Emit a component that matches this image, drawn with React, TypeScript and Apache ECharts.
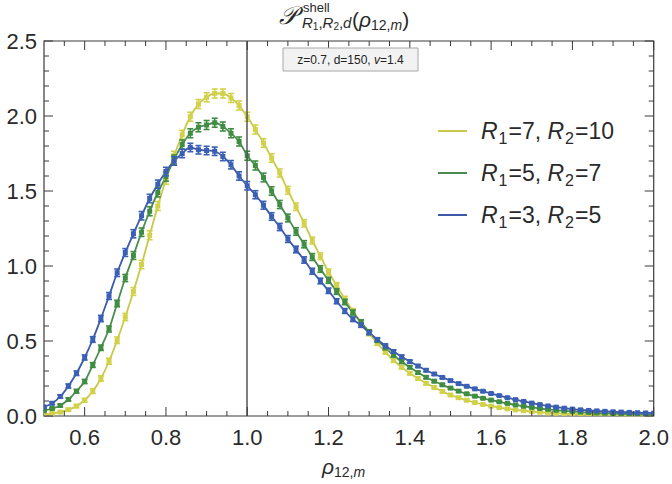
import React, { useEffect, useRef } from 'react';
import * as echarts from 'echarts';

const X = [0.50,0.52,0.54,0.56,0.58,0.60,0.62,0.64,0.66,0.68,0.70,0.72,0.74,0.76,0.78,0.80,0.82,0.84,0.86,0.88,0.90,0.92,0.94,0.96,0.98,
  1.00,1.02,1.04,1.06,1.08,1.10,1.12,1.14,1.16,1.18,1.20,1.22,1.24,1.26,1.28,1.30,1.32,1.34,1.36,1.38,1.40,1.42,1.44,1.46,1.48,
  1.50,1.52,1.54,1.56,1.58,1.60,1.62,1.64,1.66,1.68,1.70,1.72,1.74,1.76,1.78,1.80,1.82,1.84,1.86,1.88,1.90,1.92,1.94,1.96,1.98,2.00];

const yellowVals = [0.012,0.018,0.026,0.042,0.066,0.105,0.165,0.25,0.365,0.505,0.66,0.83,1.01,1.205,1.40,1.575,1.735,1.875,1.995,2.08,2.125,2.15,2.15,2.12,2.07,
  1.995,1.91,1.82,1.72,1.62,1.505,1.395,1.285,1.17,1.065,0.96,0.87,0.78,0.70,0.62,0.55,0.485,0.425,0.37,0.325,0.285,0.25,0.218,0.19,0.164,
  0.14,0.122,0.105,0.09,0.077,0.066,0.056,0.048,0.041,0.035,0.03,0.025,0.021,0.018,0.015,0.013,0.011,0.009,0.008,0.007,0.006,0.005,0.005,0.004,0.004,0.003];
const greenVals = [0.035,0.05,0.07,0.11,0.165,0.23,0.34,0.455,0.58,0.75,0.92,1.07,1.225,1.365,1.49,1.595,1.71,1.81,1.885,1.925,1.94,1.955,1.93,1.885,1.83,
  1.735,1.67,1.59,1.50,1.41,1.32,1.23,1.145,1.06,0.98,0.905,0.83,0.76,0.69,0.625,0.56,0.505,0.455,0.405,0.362,0.325,0.29,0.258,0.232,0.208,
  0.186,0.166,0.148,0.132,0.118,0.106,0.095,0.084,0.074,0.065,0.057,0.05,0.044,0.038,0.034,0.03,0.026,0.023,0.02,0.018,0.016,0.014,0.013,0.012,0.011,0.01];
const blueVals = [0.06,0.085,0.13,0.20,0.285,0.39,0.51,0.65,0.80,0.955,1.09,1.215,1.335,1.45,1.545,1.63,1.70,1.75,1.79,1.775,1.77,1.765,1.73,1.675,1.60,
  1.535,1.475,1.405,1.33,1.26,1.18,1.11,1.04,0.965,0.90,0.835,0.765,0.70,0.645,0.605,0.555,0.51,0.468,0.43,0.395,0.363,0.333,0.305,0.28,0.257,
  0.236,0.216,0.198,0.181,0.165,0.15,0.136,0.122,0.109,0.097,0.086,0.076,0.067,0.059,0.052,0.046,0.041,0.037,0.034,0.031,0.028,0.026,0.024,0.022,0.02,0.019];

const yellowErr = [0.004,0.005,0.006,0.008,0.01,0.012,0.015,0.018,0.02,0.022,0.024,0.026,0.028,0.03,0.03,0.03,0.03,0.03,0.03,0.03,0.03,0.03,0.03,0.03,0.03,
  0.03,0.03,0.029,0.028,0.027,0.026,0.025,0.024,0.023,0.022,0.02,0.019,0.018,0.017,0.016,0.015,0.014,0.013,0.012,0.011,0.01,0.009,0.009,0.008,0.008,
  0.007,0.007,0.006,0.006,0.005,0.005,0.005,0.005,0.005,0.005,0.005,0.005,0.005,0.005,0.005,0.005,0.005,0.005,0.005,0.005,0.005,0.005,0.005,0.005,0.005,0.004];
const greenErr = [0.005,0.006,0.008,0.01,0.012,0.014,0.016,0.018,0.02,0.022,0.024,0.026,0.028,0.03,0.03,0.03,0.03,0.03,0.03,0.03,0.03,0.03,0.03,0.03,0.03,
  0.03,0.03,0.029,0.028,0.027,0.026,0.025,0.024,0.023,0.022,0.02,0.019,0.018,0.017,0.016,0.015,0.014,0.013,0.012,0.011,0.01,0.009,0.009,0.008,0.008,
  0.007,0.007,0.006,0.006,0.005,0.005,0.005,0.005,0.005,0.005,0.005,0.005,0.005,0.005,0.005,0.005,0.005,0.005,0.005,0.005,0.005,0.005,0.005,0.005,0.005,0.004];
const blueErr = [0.007,0.009,0.011,0.013,0.015,0.017,0.019,0.021,0.023,0.025,0.026,0.027,0.028,0.028,0.028,0.028,0.028,0.028,0.028,0.028,0.028,0.028,0.028,0.028,0.028,
  0.028,0.027,0.026,0.025,0.024,0.023,0.022,0.021,0.02,0.019,0.018,0.017,0.016,0.015,0.014,0.013,0.012,0.012,0.011,0.011,0.01,0.009,0.009,0.008,0.008,
  0.007,0.007,0.006,0.006,0.006,0.005,0.005,0.005,0.005,0.005,0.005,0.005,0.005,0.005,0.005,0.005,0.005,0.005,0.005,0.005,0.005,0.005,0.005,0.005,0.005,0.004];

const R1 = [7, 5, 3];
const R2 = [10, 7, 5];
const lineColors = ['#c9c84a', '#4a8b50', '#3d5aa8'];
const pointColors = ['#d2d14a', '#3f8c42', '#3a5fb5'];
const seriesVals = [yellowVals, greenVals, blueVals];
const seriesErr = [yellowErr, greenErr, blueErr];

const xMajorTicks = [0.6, 0.8, 1.0, 1.2, 1.4, 1.6, 1.8, 2.0];
const xMinorTicks = [0.55, 0.65, 0.7, 0.75, 0.85, 0.9, 0.95, 1.05, 1.1, 1.15, 1.25, 1.3, 1.35, 1.45, 1.5, 1.55, 1.65, 1.7, 1.75, 1.85, 1.9, 1.95];
const yMajorTicks = [0, 0.5, 1.0, 1.5, 2.0, 2.5];
const yMinorTicks = [0.1, 0.2, 0.3, 0.4, 0.6, 0.7, 0.8, 0.9, 1.1, 1.2, 1.3, 1.4, 1.6, 1.7, 1.8, 1.9, 2.1, 2.2, 2.3, 2.4];
const markerX = 1.0;

const FONT = 'Liberation Sans, Arial, sans-serif';
const TXT = '#2a2a2a';
const FRAME = '#3a3a3a';

const G = { left: 44, right: 17, top: 41, bottom: 68 };

export default function App() {
  const ref = useRef<HTMLDivElement>(null);
  useEffect(() => {
    if (!ref.current) return;
    const chart = echarts.init(ref.current, undefined, { renderer: 'svg' });

    const lineSeries = seriesVals.map((vals, k) => ({
      type: 'line',
      data: X.map((x, i) => [x, vals[i]]),
      smooth: 0.35, showSymbol: false, symbol: 'none',
      lineStyle: { color: lineColors[k], width: 1.8 },
      z: 2, silent: true,
      markLine: k === 0 ? {
        symbol: 'none', silent: true, label: { show: false },
        lineStyle: { color: '#555', width: 1.5, type: 'solid' },
        data: [{ xAxis: markerX }],
      } : undefined,
    }));

    const pointSeries = seriesVals.map((vals, k) => ({
      type: 'custom',
      data: X.map((x, i) => [x, vals[i], seriesErr[k][i]]),
      encode: { x: 0, y: 1 },
      z: 3 + k, silent: true, clip: true,
      renderItem: (_p: any, api: any) => {
        const x = api.value(0), y = api.value(1), e = api.value(2);
        const c = api.coord([x, y]);
        const t = api.coord([x, y + e]);
        const b = api.coord([x, y - e]);
        const col = pointColors[k];
        const w = 3;
        const ls = { stroke: col, lineWidth: 1.6 };
        return {
          type: 'group',
          children: [
            { type: 'line', shape: { x1: c[0], y1: t[1], x2: c[0], y2: b[1] }, style: ls },
            { type: 'line', shape: { x1: c[0] - w, y1: t[1], x2: c[0] + w, y2: t[1] }, style: ls },
            { type: 'line', shape: { x1: c[0] - w, y1: b[1], x2: c[0] + w, y2: b[1] }, style: ls },
            { type: 'rect', shape: { x: c[0] - 2.5, y: c[1] - 2.5, width: 5, height: 5 }, style: { fill: col } },
          ],
        };
      },
    }));

    // frame ticks on all four sides, positioned through the axes' scales
    const tickStyle = { stroke: FRAME, lineWidth: 1 };
    const xTickSeries = (ticks: number[], len: number) => ({
      type: 'custom', silent: true, clip: false, z: 8,
      data: ticks.map((v) => [v, 1.0]),
      encode: { x: 0, y: 1 },
      renderItem: (_params: any, api: any) => {
        const px = api.coord([api.value(0), 0])[0];
        const yb = api.coord([api.value(0), 0])[1];
        const yt = api.coord([api.value(0), 2.5])[1];
        return {
          type: 'group',
          children: [
            { type: 'line', shape: { x1: px, y1: yb, x2: px, y2: yb - len }, style: tickStyle },
            { type: 'line', shape: { x1: px, y1: yt, x2: px, y2: yt + len }, style: tickStyle },
          ],
        };
      },
    });
    const yTickSeries = (ticks: number[], len: number) => ({
      type: 'custom', silent: true, clip: false, z: 8,
      data: ticks.map((v) => [1.0, v]),
      encode: { x: 0, y: 1 },
      renderItem: (_params: any, api: any) => {
        const py = api.coord([0.5, api.value(1)])[1];
        const xl = api.coord([0.5, api.value(1)])[0];
        const xr = api.coord([2.0, api.value(1)])[0];
        return {
          type: 'group',
          children: [
            { type: 'line', shape: { x1: xl, y1: py, x2: xl + len, y2: py }, style: tickStyle },
            { type: 'line', shape: { x1: xr, y1: py, x2: xr - len, y2: py }, style: tickStyle },
          ],
        };
      },
    });

    const legendGraphics: any[] = [];
    R1.forEach((r1, k) => {
      const yy = 131 + k * 42;
      legendGraphics.push({ type: 'line', shape: { x1: 438, y1: yy, x2: 467, y2: yy }, style: { stroke: lineColors[k], lineWidth: 2 }, z: 10 });
      legendGraphics.push({
        type: 'text', x: 481, y: yy, z: 10,
        style: {
          text: `{i|R}{s|1}{n|=${r1}, }{i|R}{s|2}{n|=${R2[k]}}`,
          fontFamily: FONT, fontSize: 23, fill: TXT, verticalAlign: 'middle',
          rich: {
            i: { fontStyle: 'italic', fontSize: 23, fontFamily: FONT, fill: TXT },
            n: { fontSize: 23, fontFamily: FONT, fill: TXT },
            s: { fontSize: 16, fontFamily: FONT, fill: TXT, padding: [14, 1, 0, 1] },
          },
        },
      });
    });

    const option: any = {
      animation: false,
      backgroundColor: '#ffffff',
      grid: { ...G, show: true, borderColor: FRAME, borderWidth: 1.2, backgroundColor: 'transparent' },
      xAxis: {
        type: 'value', min: 0.5, max: 2.0,
        axisLine: { show: false }, splitLine: { show: false }, axisTick: { show: false },
        axisLabel: { show: true, customValues: xMajorTicks, margin: 10, fontSize: 22, fontFamily: FONT, color: TXT, formatter: (v: number) => v.toFixed(1) },
      },
      yAxis: {
        type: 'value', min: 0, max: 2.5, interval: 0.5,
        axisLine: { show: false }, splitLine: { show: false }, axisTick: { show: false },
        axisLabel: { show: true, margin: 7, fontSize: 22, fontFamily: FONT, color: TXT, formatter: (v: number) => v.toFixed(1) },
      },
      series: [
        ...lineSeries,
        ...pointSeries,
        xTickSeries(xMajorTicks, 9),
        xTickSeries(xMinorTicks, 5),
        yTickSeries(yMajorTicks, 9),
        yTickSeries(yMinorTicks, 5),
      ],
      graphic: [
        { type: 'text', x: 279, y: 15, style: { text: '𝒫', fontFamily: 'DejaVu Serif, serif', fontStyle: 'italic', fontSize: 25, fill: TXT, verticalAlign: 'middle' } },
        { type: 'text', x: 303, y: 7, style: { text: 'shell', fontFamily: FONT, fontSize: 13, fill: TXT, verticalAlign: 'middle' } },
        {
          type: 'text', x: 302, y: 22,
          style: {
            text: '{i|R}{s|1}{n|,}{i|R}{s|2}{n|,}{i|d}', verticalAlign: 'middle', fill: TXT,
            rich: {
              i: { fontStyle: 'italic', fontSize: 15, fontFamily: FONT, fill: TXT },
              n: { fontSize: 15, fontFamily: FONT, fill: TXT },
              s: { fontSize: 10, fontFamily: FONT, fill: TXT, padding: [8, 0, 0, 0] },
            },
          },
        },
        {
          type: 'text', x: 352, y: 19,
          style: {
            text: '{n|(}{i|ρ}{s|12,}{si|m}{n|)}', verticalAlign: 'middle', fill: TXT,
            rich: {
              n: { fontSize: 21, fontFamily: FONT, fill: TXT },
              i: { fontSize: 21, fontStyle: 'italic', fontFamily: FONT, fill: TXT },
              s: { fontSize: 14, fontFamily: FONT, fill: TXT, padding: [12, 0, 0, 0] },
              si: { fontSize: 14, fontStyle: 'italic', fontFamily: FONT, fill: TXT, padding: [12, 0, 0, 0] },
            },
          },
        },
        { type: 'rect', shape: { x: 283, y: 48, width: 135, height: 23 }, style: { fill: '#f2f2f2', stroke: '#a8a8a8', lineWidth: 1 }, z: 20 },
        {
          type: 'text', x: 350.5, y: 59.5, z: 21,
          style: {
            text: 'z=0.7, d=150, {i|v}=1.4', fontFamily: FONT, fontSize: 12, fill: '#222', align: 'center', verticalAlign: 'middle',
            rich: { i: { fontStyle: 'italic', fontSize: 12, fontFamily: FONT, fill: '#222' } },
          },
        },
        ...legendGraphics,
        {
          type: 'text', x: 322, y: 466,
          style: {
            text: '{i|ρ}{s|12,}{si|m}', verticalAlign: 'middle', fill: TXT,
            rich: {
              i: { fontSize: 21, fontStyle: 'italic', fontFamily: FONT, fill: TXT },
              s: { fontSize: 14, fontFamily: FONT, fill: TXT, padding: [12, 0, 0, 0] },
              si: { fontSize: 14, fontStyle: 'italic', fontFamily: FONT, fill: TXT, padding: [12, 0, 0, 0] },
            },
          },
        },
      ],
    };
    chart.setOption(option);
    return () => chart.dispose();
  }, []);
  return <div ref={ref} style={{ width: 672, height: 484, position: 'absolute', left: 0, top: 0 }} />;
}
